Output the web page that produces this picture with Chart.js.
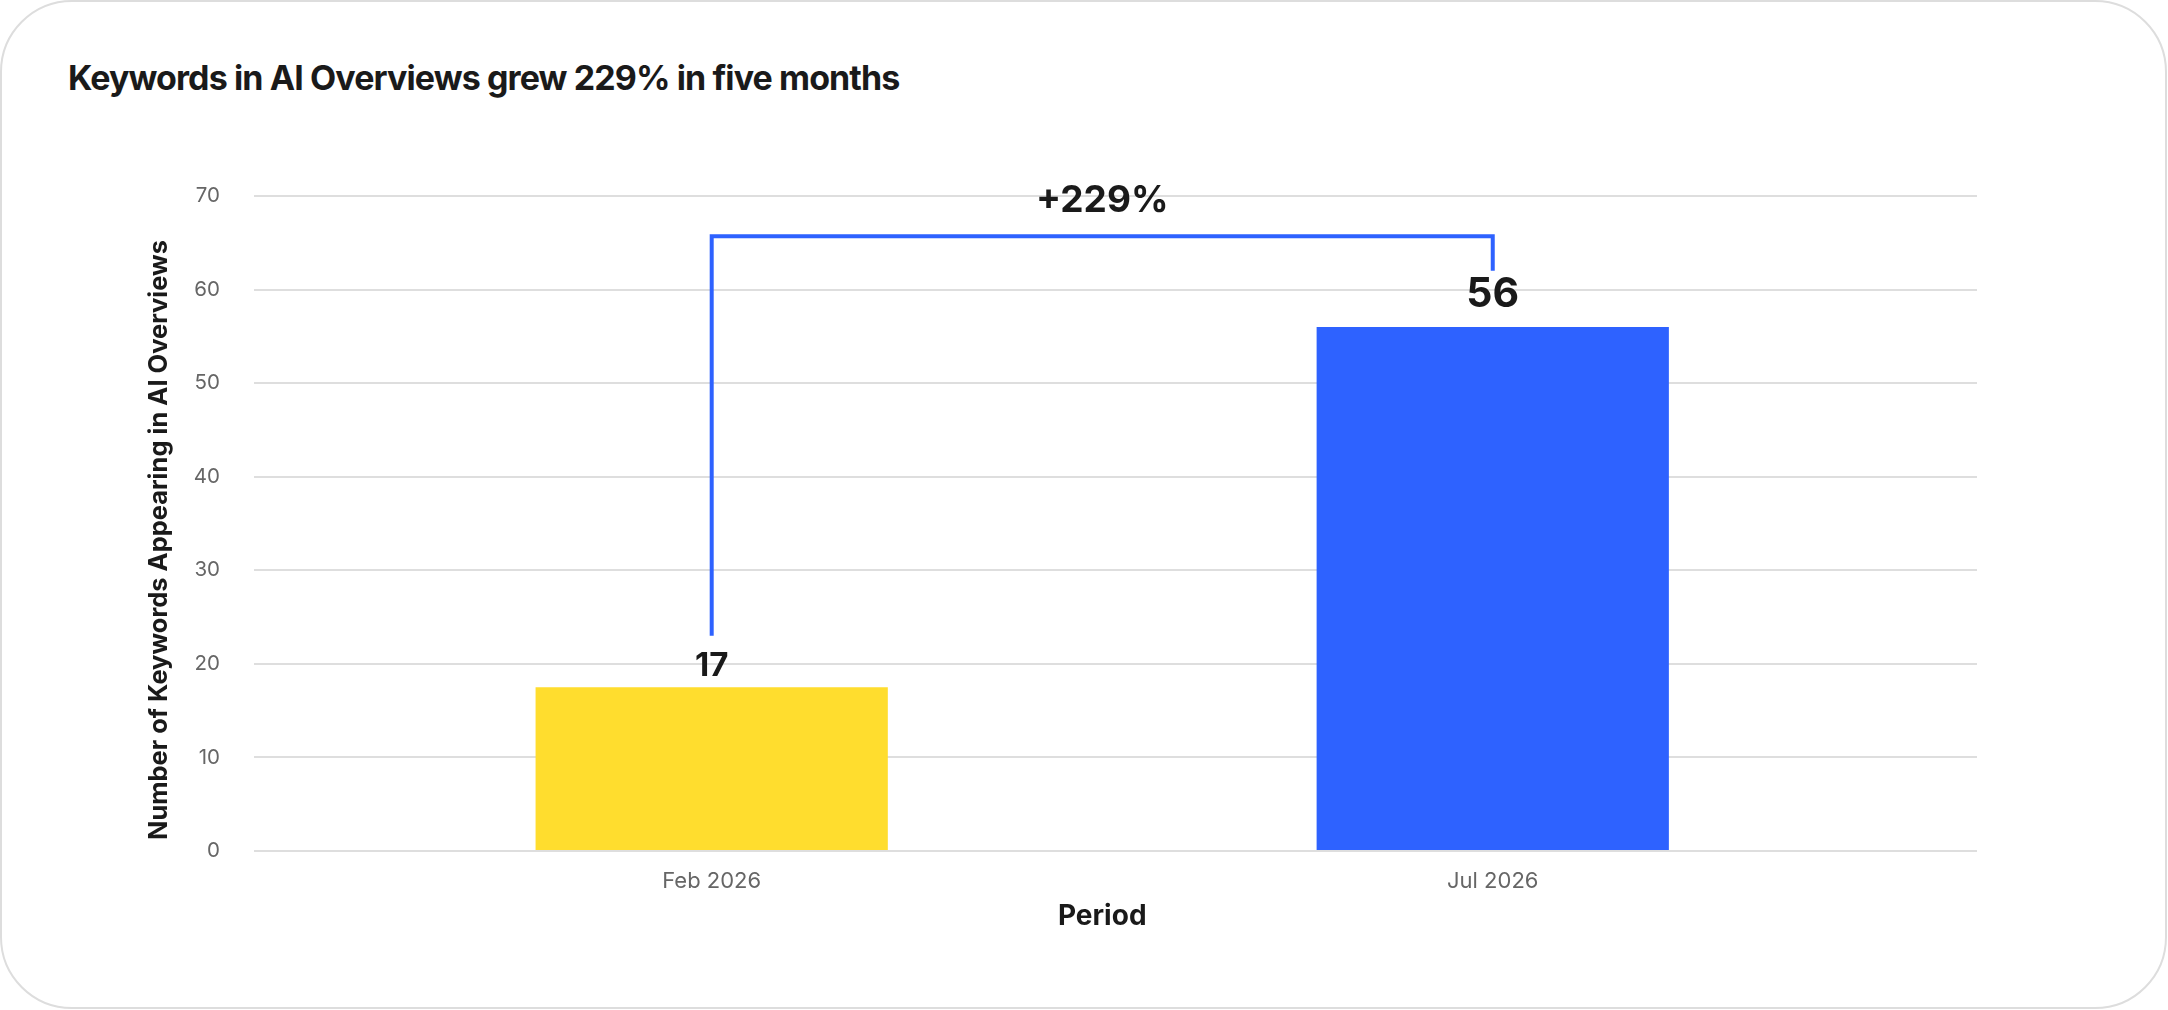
<!DOCTYPE html>
<html>
<head>
<meta charset="utf-8">
<title>Keywords in AI Overviews</title>
<script src="https://cdn.jsdelivr.net/npm/chart.js@4.4.1/dist/chart.umd.min.js"></script>
<style>
  html, body { margin: 0; padding: 0; background: #fff; }
  body { width: 2168px; height: 1010px; position: relative; overflow: hidden; font-family: Inter, sans-serif; }
  .card {
    position: absolute; left: 0; top: 0;
    width: 2163px; height: 1005px;
    border: 2px solid #dddddd; border-radius: 72px;
  }
  h1 {
    position: absolute; left: 68px; top: 61px; margin: 0;
    font-size: 34px; line-height: 34px; font-weight: 700;
    letter-spacing: -0.9px; color: #1a1a1a; white-space: nowrap;
  }
  #wrap { position: absolute; left: 0; top: 0; width: 2168px; height: 1010px; }
</style>
</head>
<body>
<div class="card"></div>
<h1>Keywords in AI Overviews grew 229% in five months</h1>
<div id="wrap"><canvas id="chart"></canvas></div>
<script>
// data
const periods = ['Feb 2026', 'Jul 2026'];
const periodPositions = [0, 1];
const keywordCounts = [17.5, 56];
const valueLabels = ['17', '56'];
const yTicks = [0, 10, 20, 30, 40, 50, 60, 70];
const changeLabel = '+229%';
const bracketEnds = [23, 62];
const bracketTop = 65.7;

const barColors = ['#FFDD2E', '#2E62FF'];
const ink = '#1a1a1a';

Chart.defaults.font.family = 'Inter';

// labels above bars, growth bracket and both axis titles
const annotate = {
  id: 'annotate',
  afterDatasetsDraw(chart) {
    const { ctx, scales: { x, y } } = chart;
    const bars = chart.getDatasetMeta(0).data;
    const labelSizes = [33, 41];
    const labelGaps = [11, 20];

    ctx.save();
    ctx.fillStyle = ink;
    ctx.textAlign = 'center';
    ctx.textBaseline = 'alphabetic';
    bars.forEach((bar, i) => {
      ctx.font = `700 ${labelSizes[i]}px Inter`;
      ctx.fillText(valueLabels[i], bar.x, bar.y - labelGaps[i]);
    });

    const x0 = x.getPixelForValue(periodPositions[0]);
    const x1 = x.getPixelForValue(periodPositions[1]);
    const yTop = y.getPixelForValue(bracketTop);
    ctx.strokeStyle = barColors[1];
    ctx.lineWidth = 4;
    ctx.beginPath();
    ctx.moveTo(x0, y.getPixelForValue(bracketEnds[0]));
    ctx.lineTo(x0, yTop);
    ctx.lineTo(x1, yTop);
    ctx.lineTo(x1, y.getPixelForValue(bracketEnds[1]));
    ctx.stroke();

    ctx.font = '700 37px Inter';
    ctx.fillText(changeLabel, (x0 + x1) / 2, yTop - 24);

    // x axis title, centred between the bars
    ctx.font = '700 28px Inter';
    ctx.textBaseline = 'middle';
    ctx.fillText('Period', (x0 + x1) / 2, 917);

    // rotated y axis title
    ctx.translate(159, 540);
    ctx.rotate(-Math.PI / 2);
    ctx.font = '700 25.5px Inter';
    ctx.fillText('Number of Keywords Appearing in AI Overviews', 0, 0);
    ctx.restore();
  }
};

new Chart(document.getElementById('chart'), {
  type: 'bar',
  data: {
    datasets: [{
      data: periodPositions.map((p, i) => ({ x: p, y: keywordCounts[i] })),
      backgroundColor: barColors,
      borderWidth: 0,
      barPercentage: 0.451,
      categoryPercentage: 1
    }]
  },
  options: {
    responsive: true,
    maintainAspectRatio: false,
    animation: false,
    layout: { padding: { top: 196, right: 191, bottom: 0, left: 0 } },
    plugins: {
      legend: { display: false },
      title: { display: false },
      tooltip: { enabled: false }
    },
    scales: {
      x: {
        type: 'linear',
        offset: false,
        min: -0.586,
        max: 1.62,
        grid: { display: false, drawTicks: false, offset: false },
        border: { display: false },
        afterBuildTicks: (axis) => { axis.ticks = periodPositions.map(v => ({ value: v })); },
        afterFit: (axis) => { axis.height = 159; },
        ticks: {
          callback: (v) => periods[periodPositions.indexOf(v)],
          color: '#666666',
          font: { size: 22 },
          padding: 17,
          maxRotation: 0
        }
      },
      y: {
        min: yTicks[0],
        max: yTicks[yTicks.length - 1],
        grid: { color: '#dedede', lineWidth: 2, drawTicks: false },
        border: { display: false },
        afterFit: (axis) => { axis.width = 254; },
        ticks: {
          stepSize: yTicks[1] - yTicks[0],
          color: '#666666',
          font: { size: 20.5 },
          padding: 34
        }
      }
    }
  },
  plugins: [annotate]
});
</script>
</body>
</html>
